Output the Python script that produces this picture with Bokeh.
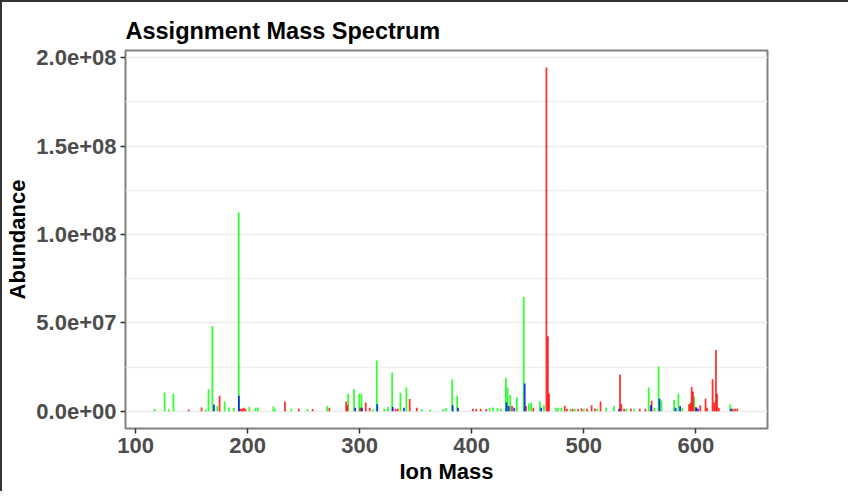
from bokeh.plotting import figure
from bokeh.models import Range1d, FixedTicker, CustomJSTickFormatter, ColumnDataSource
from bokeh.embed import file_html
from bokeh.resources import INLINE

green_mass = [117, 125.9, 129.7, 133.8, 162.7, 165.1, 168.6, 173, 179.5, 183.3, 187.7, 192.1,
              201.5, 207, 209, 223, 224.5, 239, 253.4, 271, 289.8, 295, 299.6, 301.6, 312,
              315.2, 322, 325.2, 329, 336.4, 341.7, 355.5, 362.9, 374.6, 377, 382.6, 387,
              416, 419, 423, 426, 430.5, 432, 434.4, 440.3, 446.4, 451, 453, 460.9, 464.4,
              475, 477, 480, 488, 492, 500, 512, 520, 527, 538, 545, 558, 563, 566.8, 569.4,
              580.6, 584.5, 588, 598.5, 630.7]
green_abund = [1.3e6, 1.07e7, 1.0e6, 1.0e7, 1.0e6, 1.25e7, 4.83e7, 3.0e6, 5.6e6, 2.2e6, 2.0e6, 1.124e8,
               2.5e6, 2.0e6, 2.2e6, 2.8e6, 1.0e6, 1.5e6, 1.3e6, 3.0e6, 1.0e7, 1.25e7, 1.0e7, 1.0e7, 1.2e6,
               2.88e7, 1.5e6, 2.5e6, 2.2e7, 1.05e7, 1.35e7, 1.2e6, 1.0e6, 1.3e6, 1.8e6, 1.8e7, 8.8e6,
               2.0e6, 2.2e6, 1.8e6, 1.5e6, 1.9e7, 1.35e7, 9.2e6, 7.9e6, 6.46e7, 4.5e6, 5.0e6, 5.5e6, 3.5e6,
               2.0e6, 2.0e6, 2.0e6, 1.5e6, 1.5e6, 1.5e6, 1.5e6, 2.0e6, 3.0e6, 1.5e6, 1.5e6, 1.35e7, 2.0e6, 2.53e7, 6.2e6,
               6.4e6, 1.0e7, 2.0e6, 8.4e6, 3.8e6]

red_mass = [147.4, 158.9, 175, 193.5, 195, 196.5, 198, 233.3, 245.7, 258, 273, 288, 289, 300.5,
            305.4, 309, 332, 334, 344.6, 351, 401, 404, 408, 413, 436, 448.5, 455, 466.7, 468,
            469, 483, 485, 490, 495, 498, 503, 507, 510, 515, 532.4, 533.5, 536, 542, 550, 555,
            560.6, 594, 595.4, 596.3, 597.5, 600, 604, 608.7, 610, 615, 616.4, 618, 618.9, 620.5,
            633, 635, 637]
red_abund = [1.0e6, 2.2e6, 8.8e6, 1.5e6, 1.5e6, 2.0e6, 1.5e6, 5.6e6, 1.5e6, 1.3e6, 2.0e6, 5.5e6, 3.5e6, 2.0e6,
             5.0e6, 2.0e6, 1.5e6, 1.5e6, 7.0e6, 2.0e6, 1.5e6, 1.3e6, 1.5e6, 1.3e6, 3.0e6, 3.0e6, 2.0e6, 1.944e8, 4.25e7,
             1.0e7, 3.2e6, 1.5e6, 1.5e6, 1.3e6, 1.8e6, 1.5e6, 3.5e6, 1.5e6, 5.6e6, 2.08e7, 4.0e6, 1.5e6, 1.5e6, 1.5e6, 1.5e6,
             6.0e6, 4.0e6, 5.0e6, 1.38e7, 1.12e7, 2.5e6, 3.5e6, 7.3e6, 2.0e6, 1.81e7, 5.0e6, 3.47e7, 1.0e7, 2.0e6,
             1.5e6, 1.5e6, 1.5e6]

blue_mass = [170, 192.2, 296, 302, 315.7, 329.5, 339.5, 383, 387.8, 431, 433, 438, 447.3, 462,
             531.5, 560, 567.6, 582, 586, 600.5, 602, 631.5]
blue_abund = [3.8e6, 8.8e6, 2.0e6, 2.0e6, 4.0e6, 2.5e6, 2.0e6, 3.5e6, 2.0e6, 5.0e6, 3.0e6, 2.0e6, 1.57e7, 2.0e6,
              1.5e6, 3.5e6, 7.3e6, 2.0e6, 3.0e6, 2.0e6, 1.5e6, 1.5e6]

x_ticks = [100, 200, 300, 400, 500, 600]
y_ticks = [0, 5e7, 1e8, 1.5e8, 2e8]
y_minor = [2.5e7, 7.5e7, 1.25e8, 1.75e8]

p = figure(width=848, height=491, output_backend="svg", toolbar_location=None,
           x_range=Range1d(91, 664), y_range=Range1d(-9.7e6, 2.04e8),
           title="Assignment Mass Spectrum")
p.styles = {"border-top": "2px solid #333333", "border-left": "2px solid #333333"}
p.min_border_left = 117
p.min_border_right = 83
p.min_border_top = 48
p.min_border_bottom = 65
p.background_fill_color = "white"
p.border_fill_color = "white"
p.outline_line_color = "#808080"
p.outline_line_width = 2

p.title.text_font = "Liberation Sans"
p.title.text_font_size = "23.5px"
p.title.text_font_style = "bold"
p.title.text_color = "black"
p.title.align = "left"
p.title.standoff = 14

for (m, a, c) in [(green_mass, green_abund, "#00ff00"), (red_mass, red_abund, "#ff0000"),
                  (blue_mass, blue_abund, "#0000ff")]:
    src = ColumnDataSource(dict(x=m, top=a))
    p.vbar(x="x", top="top", bottom=0, width=1.6, source=src, fill_color=c, line_color=None, fill_alpha=0.8)

p.xaxis.ticker = FixedTicker(ticks=x_ticks)
p.yaxis.ticker = FixedTicker(ticks=y_ticks, minor_ticks=y_minor)
p.yaxis.formatter = CustomJSTickFormatter(code="""
var s = tick.toExponential(1);
return s.replace(/e([+-])(\\d)$/, 'e$10$2');
""")
for ax in (p.xaxis[0], p.yaxis[0]):
    ax.axis_line_color = None
    ax.major_tick_line_color = "#333333"
    ax.major_tick_line_width = 1.5
    ax.major_tick_in = 0
    ax.major_tick_out = 5
    ax.minor_tick_line_color = None
    ax.major_label_text_font = "Liberation Sans"
    ax.major_label_text_font_size = "22px"
    ax.major_label_text_font_style = "bold"
    ax.major_label_text_color = "#4d4d4d"
    ax.axis_label_text_font = "Liberation Sans"
    ax.axis_label_text_font_size = "22px"
    ax.axis_label_text_font_style = "bold"
    ax.axis_label_text_color = "black"
p.xaxis.axis_label = "Ion Mass"
p.yaxis.axis_label = "Abundance"
p.xaxis.major_label_standoff = 4
p.yaxis.major_label_standoff = 4
p.xaxis.axis_label_standoff = 3
p.yaxis.axis_label_standoff = 3

p.xgrid.grid_line_color = None
p.ygrid.grid_line_color = "#ebebeb"
p.ygrid.grid_line_width = 1.5
p.ygrid.minor_grid_line_color = "#f0f0f0"
p.ygrid.minor_grid_line_width = 1.5

open("out.html", "w").write(file_html(p, INLINE))
